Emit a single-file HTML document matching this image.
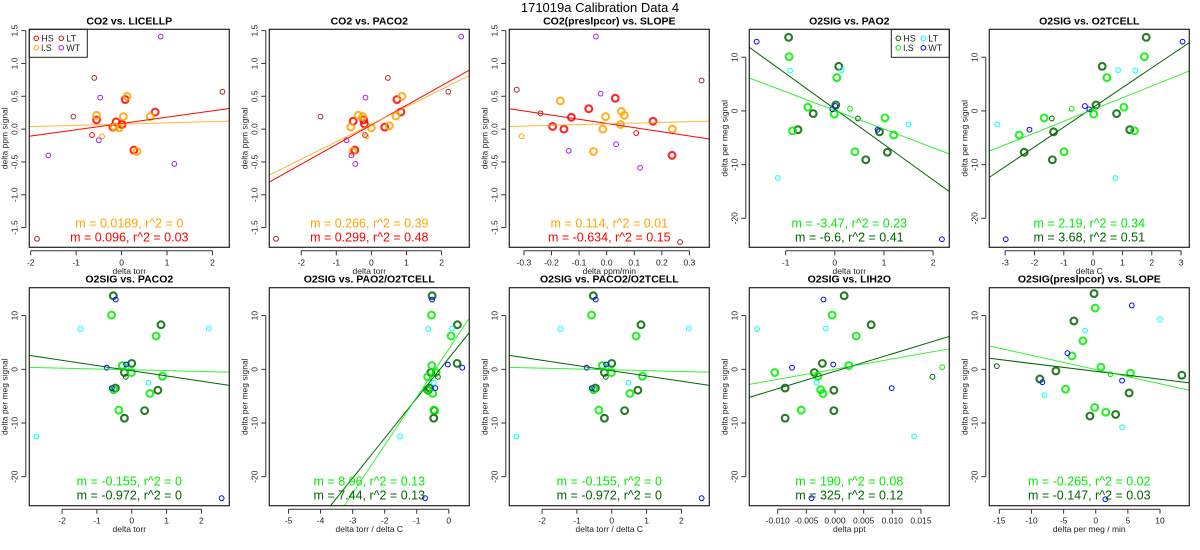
<!DOCTYPE html>
<html><head><meta charset="utf-8">
<style>
html,body{margin:0;padding:0;background:#fff;width:1200px;height:550px;overflow:hidden;}
svg{display:block;font-family:"Liberation Sans",sans-serif;overflow:hidden;}
</style></head>
<body>
<svg id="chart" width="1200" height="550" viewBox="0 0 1200 550" xmlns="http://www.w3.org/2000/svg">
<rect width="1200" height="550" fill="#fff"/>
<text x="600" y="12" text-anchor="middle" font-size="13" fill="#000">171019a   Calibration Data 4</text>
</svg>
<script>
// ---------- data ----------
const P1_HS=[[-0.55,0.14],[-0.12,0.11],[0.01,0.07],[-0.19,0.03],[0.08,0.45],[0.74,0.26],[0.27,-0.32]];
const P1_LS=[[-0.55,0.21],[0.04,0.19],[0.12,0.5],[0.63,0.19],[-0.16,0.03],[-0.05,0.02],[0.34,-0.34]];
const P1_HSt=[[-0.65,-0.09]];
const P1_LSt=[[-0.43,-0.11]];
const P1_LT=[[-0.6,0.78],[-1.06,0.19],[2.22,0.57],[-1.86,-1.67]];
const P1_WT=[[0.86,1.41],[-0.47,0.48],[-0.5,-0.17],[-1.61,-0.4],[1.16,-0.53]];
const P1_FIT_HS=[0.096,0.086]; const P1_FIT_LS=[0.0189,0.076];

const P2_HS=[[-0.52,0.12],[-0.22,0.14],[-0.2,0.08],[-0.47,-0.32],[0.38,0.03],[0.73,0.45],[0.84,0.26]];
const P2_LS=[[-0.59,0.03],[-0.37,0.21],[-0.25,0.19],[0,0.02],[0.51,0.05],[0.7,0.2],[0.87,0.5],[-0.53,-0.34]];
const P2_HSt=[[-0.18,-0.09]];
const P2_LSt=[[-0.14,-0.11]];
const P2_LT=[[-1.45,0.19],[0.47,0.78],[2.19,0.57],[-2.72,-1.67]];
const P2_WT=[[2.56,1.41],[-0.17,0.48],[-0.71,-0.17],[-0.57,-0.4],[-0.46,-0.53]];
const P2_FIT_HS=[0.299,0.063]; const P2_FIT_LS=[0.266,0.074];

const P3_HS=[[-0.196,0.04],[-0.155,0],[-0.128,0.18],[-0.065,0.31],[0.031,0.47],[0.168,0.12],[0.237,-0.4]];
const P3_LS=[[-0.168,0.43],[-0.014,0],[-0.004,0.19],[-0.048,-0.34],[0.053,0.27],[0.064,0.21],[0.05,0.07],[0.238,0]];
const P3_HSt=[[0.107,-0.06]];
const P3_LSt=[[-0.308,-0.11]];
const P3_LT=[[-0.326,0.6],[-0.24,0.24],[0.344,0.74],[0.266,-1.72]];
const P3_WT=[[-0.039,1.41],[-0.022,0.54],[0.034,-0.23],[-0.138,-0.33],[0.121,-0.59]];
const P3_FIT_HS=[-0.634,0.086]; const P3_FIT_LS=[0.114,0.08];

const P4_HS=[[-0.94,13.7],[0.08,8.3],[0.02,1.1],[-0.44,-0.5],[-0.75,-3.5],[0.91,-3.9],[0.63,-9.1],[1.07,-7.7]];
const P4_LS=[[-0.93,10.1],[0.04,6.2],[-0.55,0.7],[-0.86,-3.7],[-0.01,-0.6],[1.02,-1.3],[1.2,-4.5],[0.41,-7.6]];
const P4_HSt=[[0.47,-1.4]];
const P4_LSt=[[0.31,0.4]];
const P4_LT=[[-0.91,7.5],[0.14,7.6],[1.5,-2.5],[-1.16,-12.5]];
const P4_WT=[[-1.59,12.9],[-0.05,0.3],[0.01,0.9],[0.87,-3.5],[2.18,-23.9]];
const P4_FIT_HS=[-6.6,0.36]; const P4_FIT_LS=[-3.47,0.09];

const P5_HS=[[1.81,13.7],[0.31,8.3],[0.1,1.1],[0.8,-0.5],[1.25,-3.5],[-1.35,-3.9],[-1.39,-9.1],[-2.35,-7.7]];
const P5_LS=[[1.75,10.1],[0.47,6.2],[1.05,0.7],[1.41,-3.7],[0.02,-0.6],[-1.67,-1.3],[-2.52,-4.5],[-0.99,-7.6]];
const P5_HSt=[[-1.41,-1.4]];
const P5_LSt=[[-0.73,0.4]];
const P5_LT=[[0.85,7.6],[1.44,7.5],[-3.27,-2.5],[0.76,-12.5]];
const P5_WT=[[3.05,12.9],[-0.28,0.9],[-0.13,0.3],[-2.17,-3.5],[-2.98,-23.9]];
const P5_FIT_HS=[3.68,0.65]; const P5_FIT_LS=[2.19,0.26];

const P6_HS=[[-0.53,13.7],[0.84,8.3],[0,1.1],[-0.21,-0.6],[-0.47,-3.5],[0.75,-3.9],[-0.21,-9.1],[0.37,-7.7]];
const P6_LS=[[-0.58,10.1],[0.7,6.2],[-0.27,0.7],[-0.52,-3.8],[-0.01,-0.6],[0.88,-1.3],[0.52,-4.5],[-0.37,-7.6]];
const P6_HSt=[[-0.17,-1.4]];
const P6_LSt=[[-0.15,0.4]];
const P6_LT=[[-1.47,7.5],[2.21,7.6],[0.48,-2.5],[-2.74,-12.5]];
const P6_WT=[[-0.46,13.0],[-0.72,0.3],[-0.16,0.9],[-0.57,-3.5],[2.58,-24.0]];
const P6_FIT_HS=[-0.972,-0.27]; const P6_FIT_LS=[-0.155,-0.09];

const P7_HS=[[-0.52,13.7],[0.27,8.3],[0.26,1.1],[-0.56,-0.6],[-0.65,-3.9],[-0.6,-3.5],[-0.47,-9.1],[-0.45,-7.7]];
const P7_LS=[[-0.54,10.1],[0.07,6.2],[-0.53,0.7],[-0.66,-1.4],[-0.4,-0.6],[-0.5,-4.5],[-0.46,-7.6],[-0.67,-3.8]];
const P7_HSt=[[-0.34,-1.4]];
const P7_LSt=[];
const P7_LT=[[-0.64,7.5],[0.1,7.6],[-0.47,-2.5],[-1.52,-12.5]];
const P7_WT=[[-0.52,13.0],[0.42,0.3],[-0.03,0.9],[-0.42,-3.5],[-0.74,-24.0]];
const P7_FIT_HS=[7.44,2.06]; const P7_FIT_LS=[8.96,3.78];

const P8_HS=P6_HS, P8_LS=P6_LS, P8_HSt=P6_HSt, P8_LSt=P6_LSt, P8_LT=P6_LT, P8_WT=P6_WT;
const P8_FIT_HS=[-0.972,-0.27]; const P8_FIT_LS=[-0.155,-0.09];

const P9_HS=[[0.0016,13.7],[0.0063,8.3],[-0.0022,1.1],[-0.0036,-0.6],[-0.0087,-3.5],[-0.0002,-3.9],[-0.0087,-9.1],[-0.0002,-7.7]];
const P9_LS=[[-0.0005,10.1],[0.0037,6.2],[0.0024,0.7],[-0.0025,-3.8],[-0.0105,-0.6],[-0.003,-1.3],[-0.0021,-4.5],[-0.0059,-7.6]];
const P9_HSt=[[0.017,-1.4]];
const P9_LSt=[[0.0187,0.4]];
const P9_LT=[[-0.0136,7.5],[-0.0016,7.6],[-0.0032,-2.5],[0.0138,-12.5]];
const P9_WT=[[-0.002,13.0],[-0.0075,0.3],[-0.0003,0.9],[0.0099,-3.5],[-0.0041,-24.0]];
const P9_FIT_HS=[325,-0.36]; const P9_FIT_LS=[190,0.03];

const P10_HS=[[-0.26,14.1],[-3.4,9.0],[-6.2,-0.3],[-8.7,-1.8],[5.2,-4.4],[-0.9,-8.7],[3.1,-8.4],[13.4,-1.1]];
const P10_LS=[[-0.1,11.4],[-2.0,5.3],[-3.7,2.5],[0.8,0.4],[5.4,-0.7],[-4.7,-3.7],[-0.16,-7.1],[1.56,-8.0]];
const P10_HSt=[[-15.4,0.6]];
const P10_LSt=[[2.3,-0.9]];
const P10_LT=[[-1.66,7.2],[10.0,9.3],[-8.0,-4.8],[4.1,-10.8]];
const P10_WT=[[5.6,11.9],[-4.4,3.0],[-8.3,-2.4],[4.1,-2.1],[1.5,-24.2]];
const P10_FIT_HS=[-0.147,-0.38]; const P10_FIT_LS=[-0.265,-0.04];

const TICKS_CO2Y=["-1.5","-1.0","-0.5","0.0","0.5","1.0","1.5"];
const TICKS_O2Y=["-20","-10","0","10"];
const TICKS_TORR=["-2","-1","0","1","2"];
const TICKS_SLOPE=["-0.3","-0.2","-0.1","0.0","0.1","0.2","0.3"];
const TICKS_PAO2=["-1","0","1","2"];
const TICKS_C=["-3","-2","-1","0","1","2","3"];
const TICKS_RATIO=["-5","-4","-3","-2","-1","0"];
const TICKS_PPT=["-0.010","-0.005","0.000","0.005","0.010","0.015"];
const TICKS_PERMEG=["-15","-10","-5","0","5","10"];
const STATS_TOP=["m = 0.0189, r^2 = 0","m = 0.096, r^2 = 0.03","m = 0.266, r^2 = 0.39","m = 0.299, r^2 = 0.48","m = 0.114, r^2 = 0.01","m = -0.634, r^2 = 0.15","m = -3.47, r^2 = 0.23","m = -6.6, r^2 = 0.41","m = 2.19, r^2 = 0.34","m = 3.68, r^2 = 0.51"];
const STATS_BOT=["m = -0.155, r^2 = 0","m = -0.972, r^2 = 0","m = 8.96, r^2 = 0.13","m = 7.44, r^2 = 0.13","m = -0.155, r^2 = 0","m = -0.972, r^2 = 0","m = 190, r^2 = 0.08","m = 325, r^2 = 0.12","m = -0.265, r^2 = 0.02","m = -0.147, r^2 = 0.03"];

// ---------- rendering ----------
const svg=document.getElementById('chart');
const NS='http://www.w3.org/2000/svg';
function mk(tag,attrs,parent){const e=document.createElementNS(NS,tag);for(const k in attrs)e.setAttribute(k,attrs[k]);(parent||svg).appendChild(e);return e;}
const CO2C={HS:'#FF0000',LS:'#FFA500',LT:'#A52A2A',WT:'#A020F0'};
const O2C={HS:'#006400',LS:'#00EE00',LT:'#00FFFF',WT:'#0000FF'};
const CO2Y=[-1.80,1.52], O2Y=[-25.4,15.2];
const panels=[
 {t:'CO2 vs. LICELLP',xl:'delta torr',yl:'delta ppm signal',xlim:[-2.03,2.37],ylim:CO2Y,xt:TICKS_TORR,yt:TICKS_CO2Y,c:CO2C,d:[P1_HS,P1_LS,P1_HSt,P1_LSt,P1_LT,P1_WT],f:[P1_FIT_HS,P1_FIT_LS],s:[STATS_TOP[0],STATS_TOP[1]],leg:'left'},
 {t:'CO2 vs. PACO2',xl:'delta torr',yl:'delta ppm signal',xlim:[-2.91,2.79],ylim:CO2Y,xt:TICKS_TORR,yt:TICKS_CO2Y,c:CO2C,d:[P2_HS,P2_LS,P2_HSt,P2_LSt,P2_LT,P2_WT],f:[P2_FIT_HS,P2_FIT_LS],s:[STATS_TOP[2],STATS_TOP[3]]},
 {t:'CO2(preslpcor) vs. SLOPE',xl:'delta ppm/min',yl:'delta ppm signal',xlim:[-0.353,0.372],ylim:CO2Y,xt:TICKS_SLOPE,yt:TICKS_CO2Y,c:CO2C,d:[P3_HS,P3_LS,P3_HSt,P3_LSt,P3_LT,P3_WT],f:[P3_FIT_HS,P3_FIT_LS],s:[STATS_TOP[4],STATS_TOP[5]]},
 {t:'O2SIG vs. PAO2',xl:'delta torr',yl:'delta per meg signal',xlim:[-1.74,2.33],ylim:O2Y,xt:TICKS_PAO2,yt:TICKS_O2Y,c:O2C,d:[P4_HS,P4_LS,P4_HSt,P4_LSt,P4_LT,P4_WT],f:[P4_FIT_HS,P4_FIT_LS],s:[STATS_TOP[6],STATS_TOP[7]],leg:'right'},
 {t:'O2SIG vs. O2TCELL',xl:'delta C',yl:'delta per meg signal',xlim:[-3.54,3.28],ylim:O2Y,xt:TICKS_C,yt:TICKS_O2Y,c:O2C,d:[P5_HS,P5_LS,P5_HSt,P5_LSt,P5_LT,P5_WT],f:[P5_FIT_HS,P5_FIT_LS],s:[STATS_TOP[8],STATS_TOP[9]]},
 {t:'O2SIG vs. PACO2',xl:'delta torr',yl:'delta per meg signal',xlim:[-2.94,2.80],ylim:O2Y,xt:TICKS_TORR,yt:TICKS_O2Y,c:O2C,d:[P6_HS,P6_LS,P6_HSt,P6_LSt,P6_LT,P6_WT],f:[P6_FIT_HS,P6_FIT_LS],s:[STATS_BOT[0],STATS_BOT[1]]},
 {t:'O2SIG vs. PAO2/O2TCELL',xl:'delta torr / delta C',yl:'delta per meg signal',xlim:[-5.6,0.64],ylim:O2Y,xt:TICKS_RATIO,yt:TICKS_O2Y,c:O2C,d:[P7_HS,P7_LS,P7_HSt,P7_LSt,P7_LT,P7_WT],f:[P7_FIT_HS,P7_FIT_LS],s:[STATS_BOT[2],STATS_BOT[3]]},
 {t:'O2SIG vs. PACO2/O2TCELL',xl:'delta torr / delta C',yl:'delta per meg signal',xlim:[-2.94,2.80],ylim:O2Y,xt:TICKS_TORR,yt:TICKS_O2Y,c:O2C,d:[P8_HS,P8_LS,P8_HSt,P8_LSt,P8_LT,P8_WT],f:[P8_FIT_HS,P8_FIT_LS],s:[STATS_BOT[4],STATS_BOT[5]]},
 {t:'O2SIG vs. LIH2O',xl:'delta ppt',yl:'delta per meg signal',xlim:[-0.01495,0.01994],ylim:O2Y,xt:TICKS_PPT,yt:TICKS_O2Y,c:O2C,d:[P9_HS,P9_LS,P9_HSt,P9_LSt,P9_LT,P9_WT],f:[P9_FIT_HS,P9_FIT_LS],s:[STATS_BOT[6],STATS_BOT[7]]},
 {t:'O2SIG(preslpcor) vs. SLOPE',xl:'delta per meg / min',yl:'delta per meg signal',xlim:[-16.56,14.56],ylim:O2Y,xt:TICKS_PERMEG,yt:TICKS_O2Y,c:O2C,d:[P10_HS,P10_LS,P10_HSt,P10_LSt,P10_LT,P10_WT],f:[P10_FIT_HS,P10_FIT_LS],s:[STATS_BOT[8],STATS_BOT[9]]}
];
const W=200,H=218;
panels.forEach((p,i)=>{
  const col=i%5,row=Math.floor(i/5);
  const L=col*240+29.3, T=row?287.7:29.3;
  const g=mk('g',{});
  
  
  const sx=v=>L+(v-p.xlim[0])/(p.xlim[1]-p.xlim[0])*W;
  const sy=v=>T+H-(v-p.ylim[0])/(p.ylim[1]-p.ylim[0])*H;
  const cid='clip'+i;
  const cp=mk('clipPath',{id:cid},g);mk('rect',{x:L,y:T,width:W,height:H},cp);
  const ttl=mk('text',{x:L+W/2,y:T-5,'text-anchor':'middle','font-size':'10.5','font-weight':'bold'},g);ttl.textContent=p.t;
  
  
  const xv=p.xt.map(Number);
  const ax=mk('g',{},g);
  
  
  mk('line',{x1:sx(xv[0]),x2:sx(xv[xv.length-1]),y1:T+H+3.5,y2:T+H+3.5,stroke:'#333','stroke-width':1},ax);
  p.xt.forEach((lab,k)=>{const x=sx(xv[k]);mk('line',{x1:x,x2:x,y1:T+H+3.5,y2:T+H+8,stroke:'#333'},ax);
    const t=mk('text',{x:x,y:T+H+18,'text-anchor':'middle','font-size':'8.5',fill:'#222'},ax);t.textContent=lab;
    
    });
  const xlt=mk('text',{x:L+W/2,y:T+H+26.5,'text-anchor':'middle','font-size':'8.5',fill:'#222'},g);xlt.textContent=p.xl;
  
  
  const yv=p.yt.map(Number);
  const ay=mk('g',{},g);
  
  
  mk('line',{x1:L-3.5,x2:L-3.5,y1:sy(yv[0]),y2:sy(yv[yv.length-1]),stroke:'#333'},ay);
  p.yt.forEach((lab,k)=>{const y=sy(yv[k]);mk('line',{x1:L-3.5,x2:L-8,y1:y,y2:y,stroke:'#333'},ay);
    const t=mk('text',{x:L-12,y:y,'text-anchor':'middle','font-size':'8.5',fill:'#222',transform:`rotate(-90 ${L-12} ${y})`},ay);t.textContent=lab;
    
    });
  const yc=T+H/2;
  const ylt=mk('text',{x:L-22,y:yc,'text-anchor':'middle','font-size':'8.5',fill:'#222',transform:`rotate(-90 ${L-22} ${yc})`},g);ylt.textContent=p.yl;
  
  
  const keys=['HS','LS','HS','LS','LT','WT'];
  const pts=mk('g',{'clip-path':`url(#${cid})`},g);
  
  
  p.d.forEach((arr,gi)=>{const thick=gi<2;
    arr.forEach(pt=>{const c=mk('circle',{cx:sx(pt[0]),cy:sy(pt[1]),r:thick?3.4:2.4,fill:'none',stroke:p.c[keys[gi]],'stroke-width':thick?2.1:1,'stroke-opacity':thick?0.85:1},pts);
      
      });});
  const fcol=[p.c.HS,p.c.LS];
  p.f.forEach((fit,fi)=>{const x0=p.xlim[0],x1=p.xlim[1];
    const ln=mk('line',{x1:sx(x0),y1:sy(fit[0]*x0+fit[1]),x2:sx(x1),y2:sy(fit[0]*x1+fit[1]),stroke:fcol[fi],'stroke-width':1,'stroke-opacity':fi?0.8:1,'clip-path':`url(#${cid})`},g);
    
    });
  const s1=mk('text',{x:L+W/2,y:T+198,'text-anchor':'middle','font-size':'12.5',fill:p.c.LS},g);s1.textContent=p.s[0];
  
  
  const s2=mk('text',{x:L+W/2,y:T+212,'text-anchor':'middle','font-size':'12.5',fill:p.c.HS},g);s2.textContent=p.s[1];
  
  
  if(p.leg){const lw=58,lh=28;const lx=p.leg==='left'?L:L+W-lw;
    const lg=mk('g',{},g);
    
    
    mk('rect',{x:lx,y:T,width:lw,height:lh,fill:'#fff',stroke:'#222','stroke-width':1},lg);
    [['HS',0,0],['LT',1,0],['LS',0,1],['WT',1,1]].forEach(e=>{const ex=lx+7+e[1]*25,ey=T+9+e[2]*9.5;
      mk('circle',{cx:ex,cy:ey,r:2.3,fill:'none',stroke:p.c[e[0]],'stroke-width':1},lg);
      const t=mk('text',{x:ex+5,y:ey+3.3,'font-size':'9',fill:'#222'},lg);t.textContent=e[0]==='LS'?'l.S':e[0];
      
      });}
  mk('rect',{x:L,y:T,width:W,height:H,fill:'none',stroke:'#222','stroke-width':1.2},g);
});
</script>
</body></html>
